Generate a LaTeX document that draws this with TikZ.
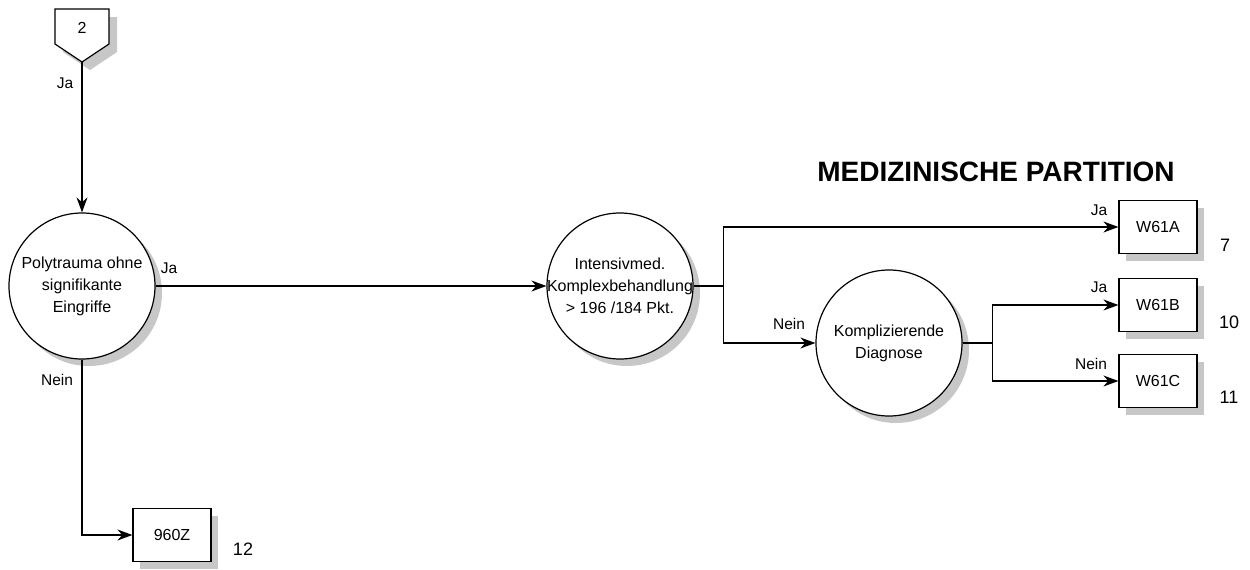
\documentclass[tikz,border=0pt]{standalone}
\usepackage{fontspec}
\setmainfont{Liberation Sans}
\usetikzlibrary{arrows.meta,shadows}

\begin{document}
\begin{tikzpicture}[x=1pt, y=-1pt, line width=1.2pt,
		shade/.style={drop shadow={shadow xshift=7pt, shadow yshift=-7pt, fill=black!22, opacity=1}},
		dec/.style={draw, circle, fill=white, minimum size=146pt, inner sep=-14pt, align=center, font=\fontsize{16}{22}\selectfont, shade},
		drg/.style={draw, rectangle, fill=white, minimum width=78pt, minimum height=53pt, inner sep=0pt, font=\fontsize{16}{18}\selectfont, shade},
		lbl/.style={font=\fontsize{15.5}{18}\selectfont, inner sep=0pt},
		num/.style={font=\fontsize{18}{20}\selectfont, inner sep=0pt},
		arr/.style={-{Stealth[length=15pt, width=11pt]}}]
			%%%%% START %%%%%
			
			\useasboundingbox (0, 0) rectangle (1250, 570);
			
			\fill[black!22] (63, 17) -- (117, 17) -- (117, 52) -- (90, 70) -- (63, 52) -- cycle;
			\draw[fill=white] (55, 9) -- (109, 9) -- (109, 44) -- (82, 62) -- (55, 44) -- cycle;
			\node[font=\fontsize{16}{18}\selectfont] (start) at (82, 28) {2};
			\coordinate (tip) at (82, 62);
			
			\node[dec] (poly) at (82, 286) {Polytrauma ohne\\signifikante\\Eingriffe};
			\node[dec] (inten) at (620, 286) {Intensivmed.\\Komplexbehandlung\\> 196 /184 Pkt.};
			\node[dec] (kompl) at (889, 343) {Komplizierende\\Diagnose};
			
			\node[drg] (z960) at (172, 535) {960Z};
			\node[drg] (w61a) at (1158, 227) {W61A};
			\node[drg] (w61b) at (1158, 305) {W61B};
			\node[drg] (w61c) at (1158, 381) {W61C};
			
			\node[font=\bfseries\fontsize{28}{32}\selectfont] (title) at (996, 172) {MEDIZINISCHE PARTITION};
			
			\draw[arr] (tip) -- (poly);
			\draw[arr] (poly.east) -- (inten.west);
			\draw[arr] (poly.south) |- (z960.west);
			
			\draw (inten.east) -- ++(30, 0) coordinate (fork1);
			\draw[arr] (fork1) |- (w61a.west);
			\draw[arr] (fork1) |- (kompl.west);
			
			\draw (kompl.east) -- ++(30, 0) coordinate (fork2);
			\draw[arr] (fork2) |- (w61b.west);
			\draw[arr] (fork2) |- (w61c.west);
			
			\node[lbl] at (65, 83) {Ja};
			\node[lbl] at (169, 268) {Ja};
			\node[lbl] at (57, 380) {Nein};
			\node[lbl] at (789, 324) {Nein};
			\node[lbl] at (1099, 210) {Ja};
			\node[lbl] at (1099, 287) {Ja};
			\node[lbl] at (1091, 364) {Nein};
			
			\node[num] at (1225, 245) {7};
			\node[num] at (1229, 322) {10};
			\node[num] at (1229, 397) {11};
			\node[num] at (243, 549) {12};
			
			%%%%% END %%%%%
\end{tikzpicture}
\end{document}
